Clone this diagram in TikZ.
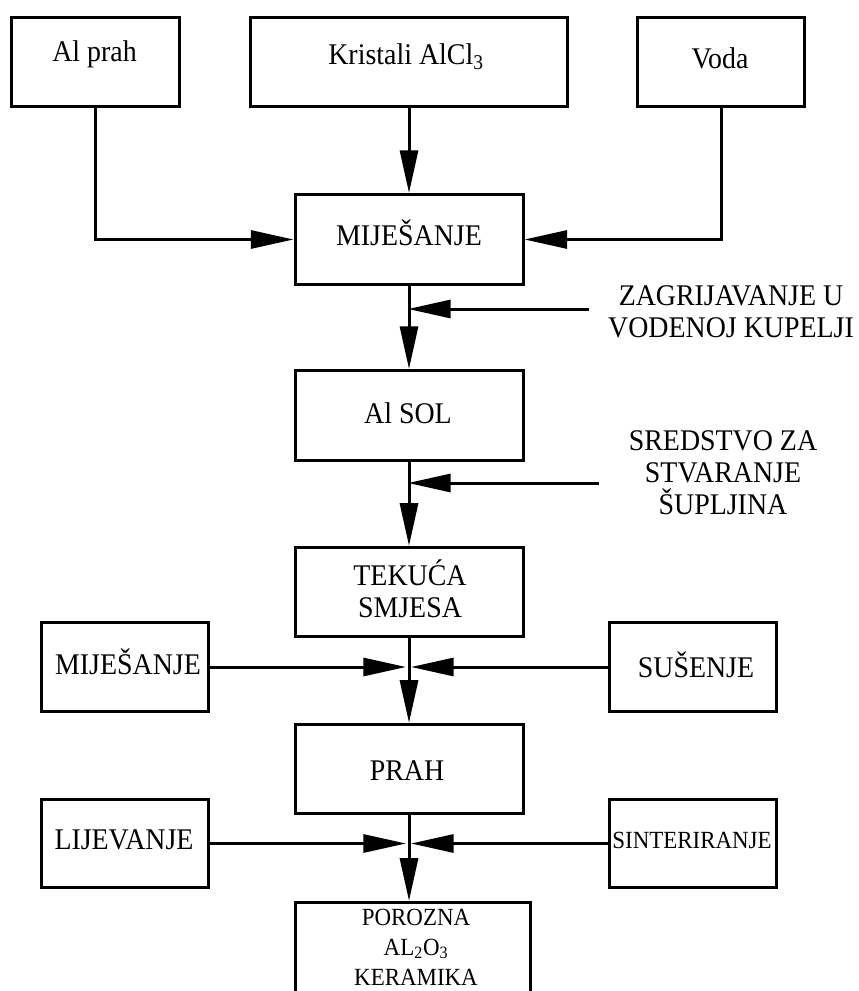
\documentclass[tikz,border=0pt]{standalone}
\usepackage{fontspec}
\setmainfont{Liberation Serif}[FakeStretch=0.93]
\usetikzlibrary{arrows.meta}
\begin{document}
\begin{tikzpicture}[x=0.75pt,y=-0.75pt,
  box/.style 2 args={draw,line width=2.25pt,fill=white,inner sep=0pt,minimum width=#1,minimum height=#2},
  lbl/.style={font=\fontsize{22.5}{24}\selectfont,anchor=base,inner sep=0pt,align=center},
  slbl/.style={font=\fontsize{18.5}{22.5}\selectfont,anchor=base,inner sep=0pt,align=center},
  conn/.style={line width=2.25pt,-{Triangle[length=32pt,width=13.5pt]}}
]
\useasboundingbox (0,0) rectangle (858,991);
\clip (0,0) rectangle (858,991);
\fill[white] (0,0) rectangle (858,991);

\node[box={126pt}{67pt}] (alprah) at (95.5,62) {};
\node[lbl] (alprahT) at (94.5,62) {Al prah};
\node[box={237.75pt}{67pt}] (kristali) at (409,62) {};
\node[lbl] (kristaliT) at (406,65) {Kristali AlCl\textsubscript{3}};
\node[box={125.25pt}{67pt}] (voda) at (721,62) {};
\node[lbl] (vodaT) at (720,69) {Voda};
\node[box={171pt}{67.5pt}] (mix) at (409,239.5) {};
\node[lbl] (mixT) at (409,245) {MIJEŠANJE};
\node[lbl] (heatT) at (731,337) {ZAGRIJAVANJE U\\VODENOJ KUPELJI};
\node[box={171pt}{67.5pt}] (alsol) at (409,415.5) {};
\node[lbl] (alsolT) at (408,423) {Al SOL};
\node[lbl] (poreT) at (723,514) {SREDSTVO ZA\\STVARANJE\\ŠUPLJINA};
\node[box={171pt}{67pt}] (tekuca) at (409,592) {};
\node[lbl] (tekucaT) at (410,617) {TEKUĆA\\SMJESA};
\node[box={125.25pt}{67pt}] (mixL) at (125,667) {};
\node[lbl] (mixLT) at (128,674) {MIJEŠANJE};
\node[box={125.25pt}{67pt}] (susenje) at (693,667) {};
\node[lbl] (susenjeT) at (696,677) {SUŠENJE};
\node[box={171pt}{67pt}] (prah) at (409,769) {};
\node[lbl] (prahT) at (407,780) {PRAH};
\node[box={125.25pt}{66pt}] (lijev) at (125,843.5) {};
\node[lbl] (lijevT) at (124,849) {LIJEVANJE};
\node[box={125.25pt}{66pt}] (sinter) at (693,843.5) {};
\node[slbl] (sinterT) at (692,848) {SINTERIRANJE};
\node[box={176.25pt}{68.5pt}] (porozna) at (413,948) {};
\node[slbl] (poroznaT) at (416,985) {POROZNA\\AL\textsubscript{2}O\textsubscript{3}\\KERAMIKA};

\coordinate (h1) at (589,309);
\coordinate (j1) at (408,309);
\coordinate (h2) at (599,483);
\coordinate (j2) at (408,483);
\coordinate (j3l) at (406,667);
\coordinate (j3r) at (411,667);
\coordinate (j4l) at (406,842);
\coordinate (j4r) at (411,842);

\draw[conn] (alprah.south) |- (mix.west);
\draw[conn] (kristali.south) -- (mix.north);
\draw[conn] (voda.south) |- (mix.east);
\draw[conn] (mix.south) -- (alsol.north);
\draw[conn] (h1) -- (j1);
\draw[conn] (alsol.south) -- (tekuca.north);
\draw[conn] (h2) -- (j2);
\draw[conn] (tekuca.south) -- (prah.north);
\draw[conn] (mixL.east) -- (j3l);
\draw[conn] (susenje.west) -- (j3r);
\draw[conn] (prah.south) -- (prah.south |- porozna.north);
\draw[conn] (lijev.east) -- (lijev.east -| j4l);
\draw[conn] (sinter.west) -- (sinter.west -| j4r);
\end{tikzpicture}
\end{document}
